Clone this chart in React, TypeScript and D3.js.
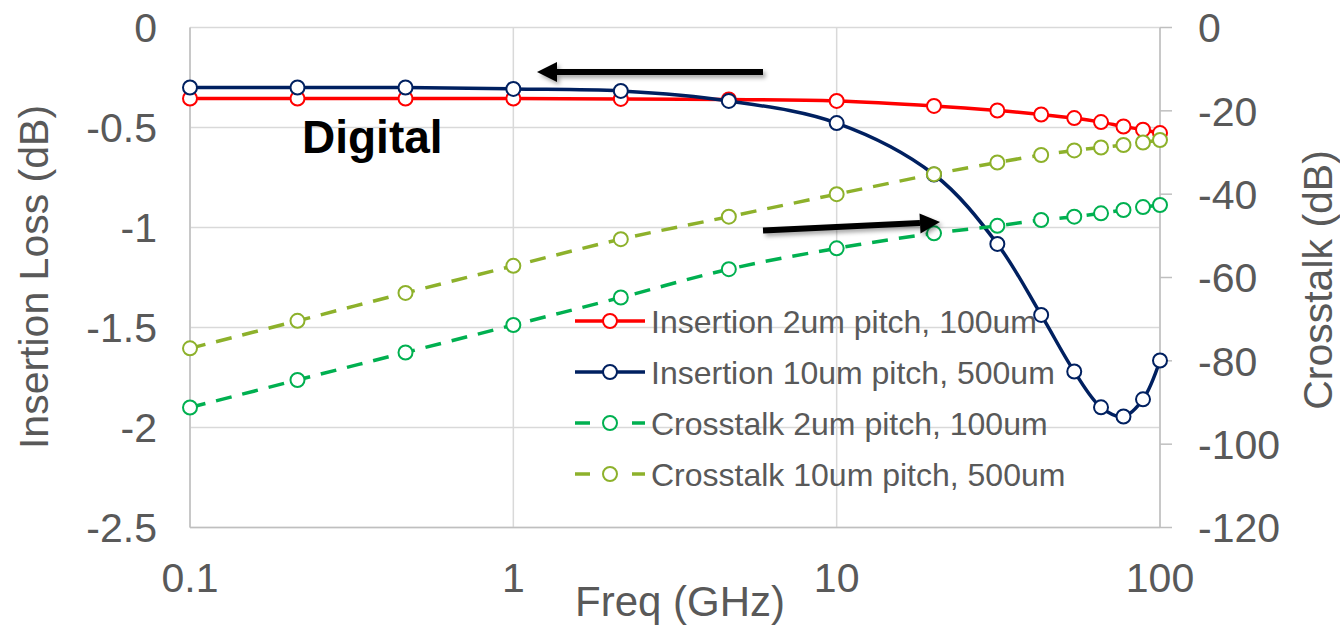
import React from "react";
import * as d3 from "d3";

const freqs = [0.1, 0.215, 0.464, 1, 2.15, 4.64, 10, 20, 31.4, 42.9, 54.3, 65.7, 77.1, 88.6, 100];
const insertion2um = [-0.355, -0.355, -0.355, -0.355, -0.357, -0.36, -0.367, -0.392, -0.415, -0.435, -0.453, -0.473, -0.495, -0.511, -0.528];
const insertion10um = [-0.3, -0.3, -0.3, -0.307, -0.317, -0.367, -0.478, -0.735, -1.082, -1.437, -1.72, -1.899, -1.945, -1.859, -1.665];
const crosstalk2um = [-91.2, -84.6, -78.0, -71.4, -64.8, -58.0, -53.0, -49.4, -47.6, -46.2, -45.4, -44.6, -43.8, -43.1, -42.6];
const crosstalk10um = [-77.0, -70.4, -63.7, -57.2, -50.8, -45.4, -40.0, -35.2, -32.4, -30.6, -29.5, -28.8, -28.2, -27.6, -27.0];

const xTicks = [0.1, 1, 10, 100];
const xTickLabels = ["0.1", "1", "10", "100"];
const leftTicks = [0, -0.5, -1, -1.5, -2, -2.5];
const rightTicks = [0, -20, -40, -60, -80, -100, -120];

const seriesNames = [
  "Insertion 2um pitch, 100um",
  "Insertion 10um pitch, 500um",
  "Crosstalk 2um pitch, 100um",
  "Crosstalk 10um pitch, 500um",
];

const W = 1340, H = 626;
const PL = 190, PR = 1160, PT = 27.5, PB = 527.5;
const TEXT = "#595959";
const FONT = "'Liberation Sans', Arial, sans-serif";
const TICK_FS = 41;

export default function App() {
  const x = d3.scaleLog().domain([0.1, 100]).range([PL, PR]);
  const yL = d3.scaleLinear().domain([-2.5, 0]).range([PB, PT]);
  const yR = d3.scaleLinear().domain([-120, 0]).range([PB, PT]);

  const series = [
    { name: seriesNames[0], vals: insertion2um, y: yL, color: "#FF0000", dash: null },
    { name: seriesNames[1], vals: insertion10um, y: yL, color: "#002060", dash: null },
    { name: seriesNames[2], vals: crosstalk2um, y: yR, color: "#00B050", dash: "16 11" },
    { name: seriesNames[3], vals: crosstalk10um, y: yR, color: "#8DB12B", dash: "16 11" },
  ];

  const legendX = 575, legendY0 = 321, legendDy = 51;

  return (
    <svg width={W} height={H} style={{ position: "absolute", left: 0, top: 0, background: "#fff" }} fontFamily={FONT}>
      <defs>
        <filter id="shadow" x="-10%" y="-50%" width="130%" height="250%">
          <feDropShadow dx="2.5" dy="3" stdDeviation="2" floodColor="#000" floodOpacity="0.35" />
        </filter>
      </defs>
      {/* gridlines */}
      {leftTicks.map((t) => (
        <line key={"hg" + t} x1={PL} x2={PR} y1={yL(t)} y2={yL(t)} stroke="#D9D9D9" strokeWidth={1.5} />
      ))}
      {xTicks.map((t) => (
        <line key={"vg" + t} x1={x(t)} x2={x(t)} y1={PT} y2={PB} stroke="#D9D9D9" strokeWidth={1.5} />
      ))}
      {/* axes */}
      <line x1={PL} x2={PL} y1={PT} y2={PB} stroke="#BFBFBF" strokeWidth={1.5} />
      <line x1={PL} x2={PR} y1={PB} y2={PB} stroke="#BFBFBF" strokeWidth={1.5} />
      <line x1={PR} x2={PR} y1={PT} y2={PB} stroke="#BFBFBF" strokeWidth={1.5} />
      {rightTicks.map((t) => (
        <line key={"rt" + t} x1={PR} x2={PR + 12} y1={yR(t)} y2={yR(t)} stroke="#BFBFBF" strokeWidth={1.5} />
      ))}
      {/* tick labels */}
      {leftTicks.map((t) => (
        <text key={"lt" + t} x={157} y={yL(t)} dy="0.36em" textAnchor="end" fontSize={TICK_FS} fill={TEXT}>
          {String(t)}
        </text>
      ))}
      {rightTicks.map((t) => (
        <text key={"rl" + t} x={1198} y={yR(t)} dy="0.36em" textAnchor="start" fontSize={TICK_FS} fill={TEXT}>
          {String(t)}
        </text>
      ))}
      {xTicks.map((t, i) => (
        <text key={"xl" + t} x={x(t)} y={592} textAnchor="middle" fontSize={TICK_FS} fill={TEXT}>
          {xTickLabels[i]}
        </text>
      ))}
      {/* axis titles */}
      <text x={680} y={616} textAnchor="middle" fontSize={42} fill={TEXT}>Freq (GHz)</text>
      <text transform={`translate(48,277) rotate(-90)`} textAnchor="middle" fontSize={41} fill={TEXT}>Insertion Loss (dB)</text>
      <text transform={`translate(1332,280) rotate(-90)`} textAnchor="middle" fontSize={41} fill={TEXT}>Crosstalk (dB)</text>

      {/* series */}
      {series.map((s, si) => {
        const pts = freqs.map((f, i) => [x(f), s.y(s.vals[i])] as [number, number]);
        const line = d3.line().curve(d3.curveCatmullRom.alpha(0.5))(pts) || "";
        return (
          <g key={"s" + si}>
            <path d={line} fill="none" stroke={s.color} strokeWidth={3.5} strokeDasharray={s.dash || undefined} />
            {pts.map((p, i) => (
              <circle key={i} cx={p[0]} cy={p[1]} r={7} fill="#fff" stroke={s.color} strokeWidth={2} />
            ))}
          </g>
        );
      })}

      {/* legend */}
      {series.map((s, i) => {
        const ly = legendY0 + i * legendDy;
        return (
          <g key={"lg" + i}>
            <line x1={legendX} x2={legendX + 70} y1={ly} y2={ly} stroke={s.color} strokeWidth={3.5} strokeDasharray={s.dash ? "15 42 13" : undefined} />
            <circle cx={legendX + 35} cy={ly} r={7} fill="#fff" stroke={s.color} strokeWidth={2} />
            <text x={legendX + 76} y={ly} dy="0.36em" fontSize={32} fill={TEXT}>{s.name}</text>
          </g>
        );
      })}

      {/* annotations */}
      <text x={302} y={153} fontSize={46} fontWeight="bold" fill="#000">Digital</text>
      <g filter="url(#shadow)">
        <line x1={763} y1={72} x2={555} y2={72} stroke="#000" strokeWidth={6} />
        <path d="M537,72 L557,62 L557,82 Z" fill="#000" />
      </g>
      <g filter="url(#shadow)">
        <line x1={763} y1={230.5} x2={920} y2={223} stroke="#000" strokeWidth={6} />
        <path d="M940,222 L919.5,213.5 L920.5,233.5 Z" fill="#000" />
      </g>
    </svg>
  );
}
